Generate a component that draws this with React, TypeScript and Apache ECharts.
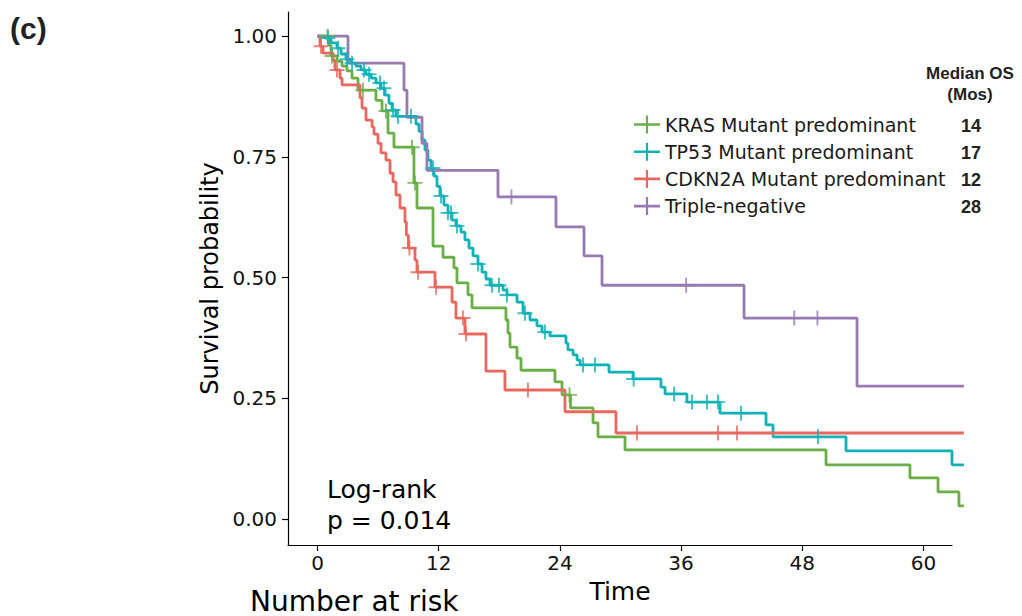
import React, { useEffect, useRef } from "react";
import * as echarts from "echarts";

// ---------- data ----------
const xTicks = [0, 12, 24, 36, 48, 60];
const yTicks = [0, 0.25, 0.5, 0.75, 1];
const groupNames = [
  "KRAS Mutant predominant",
  "TP53 Mutant predominant",
  "CDKN2A Mutant predominant",
  "Triple-negative",
];
const groupColors = ["#6AAE47", "#10B2B8", "#E9675E", "#977AB1"];
const medianOS = [14, 17, 12, 28];
const pValueText = "p = 0.014";

// [time (months), survival probability after the event]
const krasSteps: [number, number][] = [
  [0, 1], [1.14, 0.981], [1.34, 0.959], [1.93, 0.948], [2.43, 0.938], [2.92, 0.928],
  [3.42, 0.913], [4.01, 0.888], [5.79, 0.867], [6.39, 0.845], [6.98, 0.799], [7.57, 0.77],
  [9.55, 0.696], [9.85, 0.644], [11.44, 0.565], [12.43, 0.542], [13.51, 0.52], [13.81, 0.489],
  [14.9, 0.464], [15.3, 0.437], [18.66, 0.412], [18.86, 0.385], [19.06, 0.356], [19.75, 0.333],
  [20.15, 0.308], [23.51, 0.284], [24.21, 0.257], [25.05, 0.23], [27.28, 0.199], [27.77, 0.17],
  [30.45, 0.143], [50.35, 0.112], [58.66, 0.085], [61.44, 0.056], [63.51, 0.027], [64, 0.027],
];
const krasCensor = [1.0, 1.44, 4.5, 6.78, 9.36, 9.65, 24.95];

const tp53Steps: [number, number][] = [
  [0, 1], [0.74, 0.996], [1.34, 0.986], [1.93, 0.975], [2.33, 0.963], [2.82, 0.952],
  [3.32, 0.944], [3.81, 0.938], [4.31, 0.93], [4.8, 0.921], [5.3, 0.913], [5.79, 0.903],
  [6.29, 0.892], [6.68, 0.878], [7.08, 0.861], [7.38, 0.847], [7.77, 0.834], [9.75, 0.818],
  [10.05, 0.803], [10.35, 0.785], [10.64, 0.764], [10.94, 0.743], [11.24, 0.727], [11.53, 0.71],
  [11.83, 0.689], [12.13, 0.669], [12.52, 0.65], [12.92, 0.634], [13.32, 0.619], [13.71, 0.607],
  [14.21, 0.594], [14.6, 0.578], [15.0, 0.561], [15.4, 0.545], [15.89, 0.528], [16.29, 0.511],
  [16.68, 0.497], [17.08, 0.484], [18.37, 0.474], [18.76, 0.464], [19.75, 0.449], [20.35, 0.426],
  [21.04, 0.412], [21.73, 0.4], [22.23, 0.387], [23.02, 0.379], [24.6, 0.364], [24.8, 0.35],
  [25.3, 0.34], [25.7, 0.329], [26.0, 0.319], [28.86, 0.304], [31.24, 0.29], [34.01, 0.273],
  [34.41, 0.259], [36.58, 0.242], [39.85, 0.219], [44.41, 0.195], [45.1, 0.17], [52.33, 0.141],
  [62.82, 0.112], [64, 0.112],
];
const tp53Censor = [
  1.04, 2.03, 2.92, 3.42, 4.6, 5.1, 6.19, 6.58, 7.48, 7.97, 9.26, 11.43, 12.23, 12.92, 13.22,
  13.81, 15.89, 17.28, 17.97, 18.76, 20.54, 22.52, 26.29, 27.48, 31.3, 35.31, 37.08, 38.56,
  39.65, 41.93, 49.55,
];

const cdkn2aSteps: [number, number][] = [
  [0, 1], [0.25, 0.979], [0.54, 0.965], [1.53, 0.95], [1.73, 0.93], [2.23, 0.913], [2.43, 0.899],
  [4.21, 0.872], [4.41, 0.851], [4.8, 0.826], [5.4, 0.812], [5.59, 0.797], [5.99, 0.778],
  [6.29, 0.758], [6.78, 0.743], [7.18, 0.716], [7.48, 0.698], [7.77, 0.671], [8.17, 0.644],
  [8.66, 0.615], [8.8, 0.588], [9.0, 0.561], [9.65, 0.536], [9.85, 0.511], [11.63, 0.48],
  [13.32, 0.449], [13.71, 0.416], [14.6, 0.383], [16.68, 0.306], [18.56, 0.267], [24.5, 0.222],
  [29.55, 0.178], [64, 0.178],
];
const cdkn2aCensor = [0.35, 1.93, 9.1, 9.95, 11.73, 14.4, 14.7, 20.84, 31.63, 39.65, 41.53];

const tripleSteps: [number, number][] = [
  [0, 1], [3.02, 0.944], [8.56, 0.888], [8.86, 0.832], [10.35, 0.778], [10.84, 0.722],
  [17.87, 0.667], [23.61, 0.605], [26.39, 0.545], [28.17, 0.484], [42.23, 0.416],
  [53.42, 0.275], [64, 0.275],
];
const tripleCensor = [19.2, 36.5, 47.2, 49.5];

const allSteps = [krasSteps, tp53Steps, cdkn2aSteps, tripleSteps];
const allCensor = [krasCensor, tp53Censor, cdkn2aCensor, tripleCensor];

function survAt(steps: [number, number][], t: number): number {
  let s = steps[0][1];
  for (const [ti, si] of steps) {
    if (ti <= t) s = si;
    else break;
  }
  return s;
}

// ---------- layout ----------
const PX_PER_MONTH = 10.1;
const GRID_LEFT = 288;
const GRID_TOP = 12;
const GRID_HEIGHT = 533;
const DATA_WIDTH = 675;
const AXIS_WIDTH = 664;
const X_MIN = -2.92;
const X_DATA_MAX = X_MIN + DATA_WIDTH / PX_PER_MONTH;
const X_AXIS_MAX = X_MIN + AXIS_WIDTH / PX_PER_MONTH;
const Y_MIN = -0.054;
const Y_MAX = 1.05;
const FONT = "DejaVu Sans";
const BOLD_FONT = "Liberation Sans";

const plusSymbol =
  "path://M-0.9,-7H0.9V-0.9H7V0.9H0.9V7H-0.9V0.9H-7V-0.9H-0.9Z";
const legendIcon =
  "path://M-13,-1.3H-1.1V-9H1.1V-1.3H13V1.3H1.1V9H-1.1V1.3H-13Z";

export default function App() {
  const ref = useRef<HTMLDivElement>(null);

  useEffect(() => {
    if (!ref.current) return;
    const chart = echarts.init(ref.current, null, { renderer: "svg" });

    const lineSeries = groupNames.map((name, i) => ({
      type: "line",
      name,
      xAxisIndex: 0,
      yAxisIndex: 0,
      data: allSteps[i],
      step: "end",
      symbol: "none",
      showSymbol: false,
      clip: true,
      lineStyle: { width: 2.8, color: groupColors[i] },
      itemStyle: { color: groupColors[i] },
      z: 2,
    }));
    const censorSeries = groupNames.map((name, i) => ({
      type: "scatter",
      name: name + " (censored)",
      xAxisIndex: 0,
      yAxisIndex: 0,
      data: allCensor[i].map((t) => [t, survAt(allSteps[i], t)]),
      symbol: plusSymbol,
      symbolSize: 15,
      itemStyle: { color: groupColors[i] },
      z: 3,
    }));

    const legendRowY = [125.5, 152.7, 180, 207];
    const medianTexts = medianOS.map((m, i) => ({
      type: "text",
      x: 971,
      y: legendRowY[i],
      style: {
        text: String(m),
        font: `bold 18px '${BOLD_FONT}'`,
        fill: "#222",
        textAlign: "center",
        textVerticalAlign: "middle",
      },
    }));

    chart.setOption({
      animation: false,
      backgroundColor: "#ffffff",
      grid: [
        { left: GRID_LEFT, top: GRID_TOP, width: DATA_WIDTH, height: GRID_HEIGHT },
        { left: GRID_LEFT, top: GRID_TOP, width: AXIS_WIDTH, height: GRID_HEIGHT },
      ],
      xAxis: [
        {
          gridIndex: 0,
          type: "value",
          min: X_MIN,
          max: X_DATA_MAX,
          show: false,
          splitLine: { show: false },
        },
        {
          gridIndex: 1,
          type: "value",
          min: X_MIN,
          max: X_AXIS_MAX,
          axisLine: { show: true, onZero: false, lineStyle: { color: "#000", width: 1.2 } },
          axisTick: {
            show: true,
            customValues: xTicks,
            length: 6,
            lineStyle: { color: "#000", width: 1.2 },
          },
          axisLabel: {
            customValues: xTicks,
            margin: 8,
            fontFamily: FONT,
            fontSize: 20,
            color: "#111",
          },
          splitLine: { show: false },
          name: "Time",
          nameLocation: "middle",
          nameGap: 34,
          nameTextStyle: { fontFamily: FONT, fontSize: 25, color: "#000" },
        },
      ],
      yAxis: [
        {
          gridIndex: 0,
          type: "value",
          min: Y_MIN,
          max: Y_MAX,
          axisLine: { show: true, onZero: false, lineStyle: { color: "#000", width: 1.2 } },
          axisTick: {
            show: true,
            customValues: yTicks,
            length: 6,
            lineStyle: { color: "#000", width: 1.2 },
          },
          axisLabel: {
            customValues: yTicks,
            formatter: (v: number) => v.toFixed(2),
            margin: 11,
            fontFamily: FONT,
            fontSize: 20,
            color: "#111",
          },
          splitLine: { show: false },
          name: "Survival probability",
          nameLocation: "middle",
          nameGap: 65,
          nameTextStyle: { fontFamily: FONT, fontSize: 24, color: "#000" },
        },
        {
          gridIndex: 1,
          type: "value",
          min: Y_MIN,
          max: Y_MAX,
          show: false,
          splitLine: { show: false },
        },
      ],
      legend: {
        data: groupNames,
        orient: "vertical",
        left: 629,
        top: 110,
        itemWidth: 26,
        itemHeight: 18,
        itemGap: 8.2,
        icon: legendIcon,
        selectedMode: false,
        textStyle: { fontFamily: FONT, fontSize: 19, color: "#1a1a1a" },
      },
      graphic: [
        {
          type: "text",
          x: 10,
          y: 28,
          style: {
            text: "(c)",
            font: `bold 30px '${BOLD_FONT}'`,
            fill: "#222",
            textVerticalAlign: "middle",
          },
        },
        {
          type: "text",
          x: 327,
          y: 489,
          style: {
            text: "Log-rank",
            font: `25px '${FONT}'`,
            fill: "#000",
            textVerticalAlign: "middle",
          },
        },
        {
          type: "text",
          x: 327,
          y: 520,
          style: {
            text: pValueText,
            font: `25px '${FONT}'`,
            fill: "#000",
            textVerticalAlign: "middle",
          },
        },
        {
          type: "text",
          x: 250,
          y: 601,
          style: {
            text: "Number at risk",
            font: `28px '${FONT}'`,
            fill: "#000",
            textVerticalAlign: "middle",
          },
        },
        {
          type: "text",
          x: 970,
          y: 73,
          style: {
            text: "Median OS",
            font: `bold 17px '${BOLD_FONT}'`,
            fill: "#222",
            textAlign: "center",
            textVerticalAlign: "middle",
          },
        },
        {
          type: "text",
          x: 970,
          y: 94,
          style: {
            text: "(Mos)",
            font: `bold 17px '${BOLD_FONT}'`,
            fill: "#222",
            textAlign: "center",
            textVerticalAlign: "middle",
          },
        },
        ...medianTexts,
      ],
      series: [...lineSeries, ...censorSeries],
    });

    return () => chart.dispose();
  }, []);

  return (
    <div
      ref={ref}
      style={{ position: "fixed", left: 0, top: 0, width: 1022, height: 616, background: "#fff" }}
    />
  );
}
